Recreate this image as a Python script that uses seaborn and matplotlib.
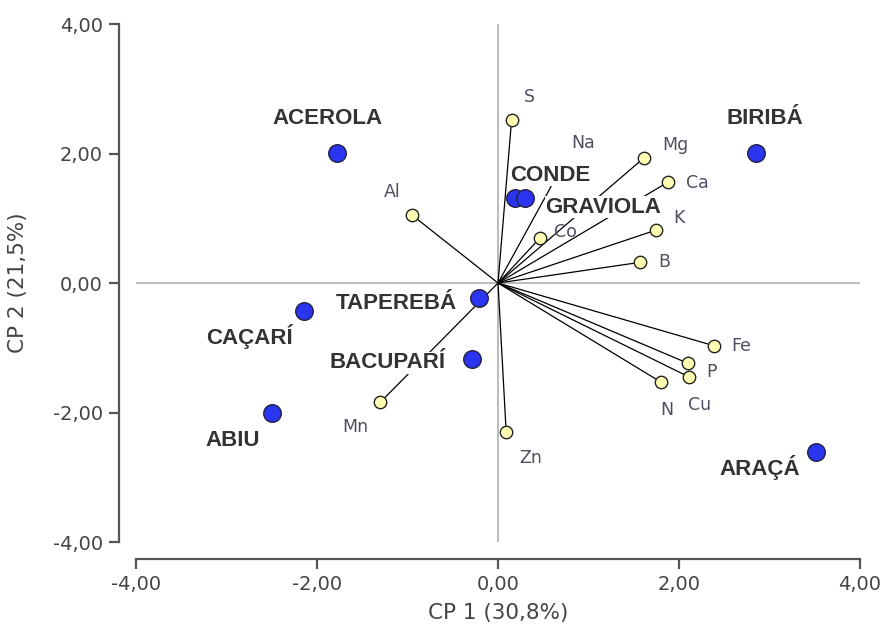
import numpy as np
import pandas as pd
import matplotlib
matplotlib.use("Agg")
import matplotlib.pyplot as plt
from matplotlib.ticker import FuncFormatter
import seaborn as sns

# === Dados: escores das frutas (CP1, CP2) ===
frutas = ["ACEROLA", "BIRIBÁ", "CONDE", "GRAVIOLA", "TAPEREBÁ",
          "CAÇARÍ", "BACUPARÍ", "ABIU", "ARAÇÁ"]
fruta_cp1 = [-1.78, 2.85, 0.19, 0.30, -0.21, -2.14, -0.29, -2.50, 3.51]
fruta_cp2 = [2.01, 2.01, 1.31, 1.31, -0.23, -0.43, -1.17, -2.01, -2.61]

# === Dados: cargas dos minerais ===
minerais = ["S", "Na", "Mg", "Ca", "K", "Co", "B", "Al",
            "Fe", "P", "Cu", "N", "Mn", "Zn"]
mineral_cp1 = [0.15, 0.66, 1.61, 1.88, 1.75, 0.46, 1.57, -0.95,
               2.39, 2.10, 2.11, 1.80, -1.30, 0.09]
mineral_cp2 = [2.52, 1.68, 1.93, 1.56, 0.82, 0.69, 0.32, 1.05,
               -0.97, -1.24, -1.45, -1.53, -1.84, -2.30]

# deslocamento dos rótulos (pixels)
off_frutas = [(-9, 34), (9, 34), (35, 23), (78, -9), (-83, -6),
              (-55, -26), (-84, -4), (-39, -27), (-56, -15)]
off_minerais = [(18, 23), (25, 31), (32, 13), (29, -1), (23, 12), (26, 6),
                (24, 0), (-20, 23), (27, 0), (23, -9), (11, -28), (6, -28),
                (-25, -25), (25, -26)]

df_f = pd.DataFrame({"fruta": frutas, "cp1": fruta_cp1, "cp2": fruta_cp2})
df_m = pd.DataFrame({"mineral": minerais, "cp1": mineral_cp1, "cp2": mineral_cp2})

sns.set_style("ticks")
plt.rcParams["font.family"] = ["DejaVu Sans"]

fig = plt.figure(figsize=(8.81, 6.28), dpi=100)
ax = fig.add_axes([0.1544, 0.1369, 0.8218, 0.8248])

# eixos de referência
ax.axhline(0, color="#a8a8a8", lw=1.1, zorder=1)
ax.axvline(0, color="#a8a8a8", lw=1.1, zorder=1)

# vetores dos minerais
for x, y in zip(df_m["cp1"], df_m["cp2"]):
    ax.plot([0, x], [0, y], color="black", lw=0.9, zorder=2)

sns.scatterplot(data=df_m, x="cp1", y="cp2", s=80, color="#ffffb4",
                edgecolor="#222222", linewidth=1.0, ax=ax, zorder=3)
sns.scatterplot(data=df_f, x="cp1", y="cp2", s=160, color="#2b35f0",
                edgecolor="#222244", linewidth=1.0, ax=ax, zorder=4)

for nome, x, y, (dx, dy) in zip(frutas, fruta_cp1, fruta_cp2, off_frutas):
    ax.annotate(nome, (x, y), xytext=(dx, dy), textcoords="offset pixels",
                ha="center", va="center", fontsize=16, fontweight="bold",
                family="Liberation Sans", color="#333333", zorder=6,
                bbox=dict(facecolor="white", edgecolor="none", pad=0.5))

for nome, x, y, (dx, dy) in zip(minerais, mineral_cp1, mineral_cp2, off_minerais):
    ax.annotate(nome, (x, y), xytext=(dx, dy), textcoords="offset pixels",
                ha="center", va="center", fontsize=12.5,
                color="#4e4e5e", zorder=5)

ax.set_xlim(-4, 4)
ax.set_ylim(-4, 4)
ax.set_xticks([-4, -2, 0, 2, 4])
ax.set_yticks([-4, -2, 0, 2, 4])
fmt = FuncFormatter(lambda v, p: f"{v:.2f}".replace(".", ","))
ax.xaxis.set_major_formatter(fmt)
ax.yaxis.set_major_formatter(fmt)
ax.tick_params(labelsize=14, colors="#555555", labelcolor="#444444",
               length=7, width=1.6, direction="out", pad=5)

ax.set_xlabel("CP 1 (30,8%)", fontsize=15.5, color="#444444", labelpad=6)
ax.set_ylabel("CP 2 (21,5%)", fontsize=15.5, color="#444444", labelpad=18)

sns.despine(ax=ax, offset=12, trim=True)
for s in ["left", "bottom"]:
    ax.spines[s].set_color("#555555")
    ax.spines[s].set_linewidth(1.6)

fig.savefig("out.png", dpi=100)
